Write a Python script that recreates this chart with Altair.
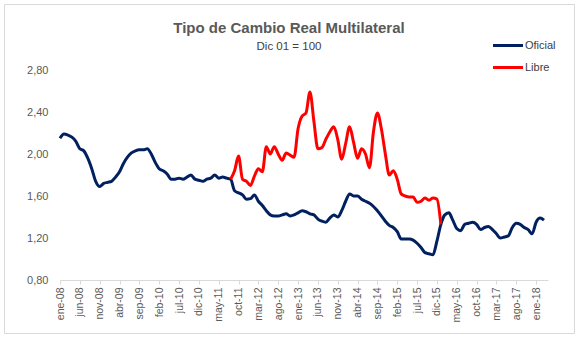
import altair as alt
import pandas as pd

# Monthly values, ene-08 (index 0) to mar-18 (index 122)
oficial = [
    2.15, 2.19, 2.18, 2.16, 2.12, 2.05, 2.03, 1.96, 1.86, 1.74,
    1.69, 1.72, 1.73, 1.74, 1.78, 1.83, 1.91, 1.97, 2.01, 2.03,
    2.04, 2.04, 2.05, 2.00, 1.92, 1.86, 1.84, 1.81, 1.76, 1.76,
    1.77, 1.76, 1.78, 1.80, 1.76, 1.75, 1.74, 1.76, 1.77, 1.80,
    1.77, 1.78, 1.77, 1.76, 1.65, 1.63, 1.61, 1.57, 1.575, 1.61,
    1.55, 1.51, 1.46, 1.42, 1.41, 1.41, 1.42, 1.43, 1.41, 1.42,
    1.44, 1.46, 1.45, 1.43, 1.42, 1.38, 1.36, 1.35, 1.39, 1.42,
    1.40, 1.46, 1.55, 1.62, 1.60, 1.60, 1.57, 1.55, 1.53, 1.50,
    1.46, 1.41, 1.36, 1.32, 1.30, 1.26, 1.19, 1.19, 1.19, 1.18,
    1.15, 1.11, 1.06, 1.05, 1.04, 1.17, 1.33, 1.42, 1.44, 1.37,
    1.29, 1.27, 1.33, 1.34, 1.35, 1.33, 1.28, 1.30, 1.31, 1.28,
    1.24, 1.20, 1.21, 1.22, 1.30, 1.34, 1.33, 1.30, 1.28, 1.24,
    1.35, 1.39, 1.37,
]

# Libre: from ago-11 (index 43) to ene-16 (index 96)
libre_start = 43
libre = [
    1.76, 1.84, 1.98, 1.76, 1.74, 1.70, 1.79, 1.86, 1.83, 2.07,
    2.00, 2.07, 2.00, 1.94, 2.01, 1.99, 1.97, 2.24, 2.36, 2.39,
    2.59, 2.31, 2.05, 2.06, 2.14, 2.21, 2.26, 2.14, 1.95, 2.10,
    2.26, 2.11, 1.96, 2.05, 2.00, 1.87, 2.21, 2.39, 2.24, 2.00,
    1.80, 1.84, 1.76, 1.62, 1.60, 1.59, 1.59, 1.54, 1.55, 1.58,
    1.56, 1.58, 1.57, 1.33,
]

tick_labels = [
    "ene-08", "jun-08", "nov-08", "abr-09", "sep-09", "feb-10", "jul-10",
    "dic-10", "may-11", "oct-11", "mar-12", "ago-12", "ene-13", "jun-13",
    "nov-13", "abr-14", "sep-14", "feb-15", "jul-15", "dic-15", "may-16",
    "oct-16", "mar-17", "ago-17", "ene-18",
]
tick_step = 5
series_names = ["Oficial", "Libre"]
series_colors = ["#002060", "#FF0000"]
y_ticks = [0.8, 1.2, 1.6, 2.0, 2.4, 2.8]

rows = [{"m": i, "valor": v, "serie": "Oficial"} for i, v in enumerate(oficial)]
rows += [{"m": libre_start + i, "valor": v, "serie": "Libre"} for i, v in enumerate(libre)]
df = pd.DataFrame(rows)

label_array = "[" + ",".join("'%s'" % t for t in tick_labels) + "]"
x_label_expr = label_array + "[round(datum.value / %d)]" % tick_step

FONT = "Liberation Sans"

lines = alt.Chart(df).mark_line(strokeWidth=3, interpolate="monotone").encode(
    x=alt.X(
        "m:Q",
        scale=alt.Scale(domain=[0, 123], nice=False, zero=False),
        axis=alt.Axis(
            values=list(range(0, tick_step * len(tick_labels), tick_step)),
            labelExpr=x_label_expr,
            labelAngle=270,
            labelAlign="right",
            labelBaseline="middle",
            labelOverlap=False,
            labelBound=False,
            labelPadding=3,
            labelFont=FONT,
            labelFontSize=10.5,
            labelColor="#595959",
            tickSize=4,
            tickColor="#d9d9d9",
            domainColor="#d9d9d9",
            grid=False,
            title=None,
        ),
    ),
    y=alt.Y(
        "valor:Q",
        scale=alt.Scale(domain=[0.8, 2.8], nice=False, zero=False),
        axis=alt.Axis(
            values=y_ticks,
            labelExpr="replace(format(datum.value, '.2f'), '.', ',')",
            domain=False,
            ticks=False,
            grid=False,
            labelPadding=12,
            labelFont=FONT,
            labelFontSize=11,
            labelColor="#595959",
            title=None,
        ),
    ),
    color=alt.Color(
        "serie:N",
        scale=alt.Scale(domain=series_names, range=series_colors),
        sort=series_names,
        legend=alt.Legend(
            title=None,
            orient="none",
            legendX=439,
            legendY=-33.5,
            symbolType="M-2,0H2",
            symbolSize=225,
            symbolStrokeWidth=3,
            labelOffset=8,
            rowPadding=7,
            padding=0,
            labelFont=FONT,
            labelFontSize=11,
            labelColor="#404040",
        ),
    ),
)

border = alt.Chart(pd.DataFrame({"a": [0]})).mark_rect(
    filled=False, stroke="#d9d9d9", strokeWidth=1
).encode(
    x=alt.value(-55.5), x2=alt.value(514.5), y=alt.value(-65.5), y2=alt.value(263.5)
)

chart = alt.layer(border, lines).properties(
    width=488,
    height=210,
    padding={"left": 60, "top": 70, "right": 31, "bottom": 57},
    autosize=alt.AutoSizeParams(type="none"),
    title=alt.TitleParams(
        text="Tipo de Cambio Real Multilateral",
        subtitle="Dic 01 = 100",
        anchor="middle",
        dx=-15,
        dy=48,
        font=FONT,
        fontSize=15,
        fontWeight="bold",
        color="#595959",
        subtitleFont=FONT,
        subtitleFontSize=11.5,
        subtitleColor="#404040",
        subtitlePadding=5,
        offset=0,
    ),
).configure_view(stroke=None)

chart.save("out.html", embed_options={"renderer": "svg", "actions": False})
